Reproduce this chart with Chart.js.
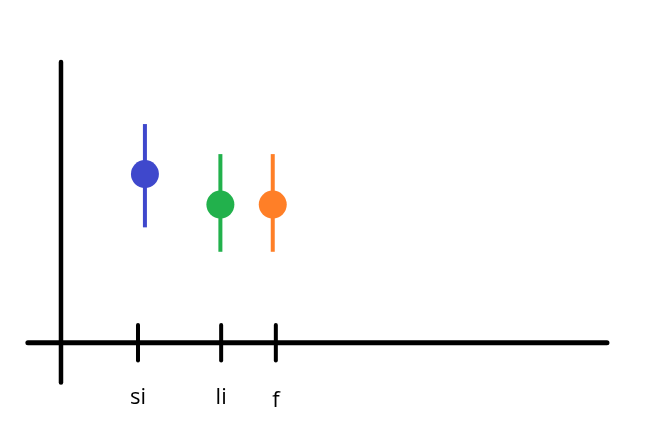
<!DOCTYPE html>
<html>
<head>
<meta charset="utf-8">
<script src="https://cdn.jsdelivr.net/npm/chart.js@4"></script>
<style>
  html, body { margin: 0; padding: 0; background: #fff; }
  #wrap { width: 650px; height: 439px; }
</style>
</head>
<body>
<div id="wrap"><canvas id="chart" width="650" height="439"></canvas></div>
<script>
// categories and where their ticks sit on the x axis
const categories = ['si', 'li', 'f'];
const tickPositions = [1, 2.08, 2.79];
// point x positions (drawn a little off the ticks in the original)
const pointPositions = [1.09, 2.07, 2.75];
// means and error bar ends
const means = [6.01, 4.92, 4.92];
const upper = [7.79, 6.72, 6.72];
const lower = [4.11, 3.24, 3.24];
const colors = ['#3f48cc', '#22b14c', '#ff7f27'];

// axis extents (data units)
const xAxisRange = [-0.43, 7.09];
const yAxisRange = [-1.42, 10];
const tickHalf = 0.63;
const labelY = [-2.2, -2.2, -2.28];

const handDrawn = {
  id: 'handDrawn',
  beforeDatasetsDraw(chart) {
    const { ctx, scales: { x, y } } = chart;
    ctx.save();
    ctx.strokeStyle = '#000';
    ctx.lineCap = 'round';

    // y axis
    ctx.lineWidth = 4.5;
    ctx.beginPath();
    ctx.moveTo(x.getPixelForValue(0), y.getPixelForValue(yAxisRange[1]));
    ctx.lineTo(x.getPixelForValue(0), y.getPixelForValue(yAxisRange[0]));
    ctx.stroke();

    // x axis
    ctx.lineWidth = 5;
    ctx.beginPath();
    ctx.moveTo(x.getPixelForValue(xAxisRange[0]), y.getPixelForValue(0));
    ctx.lineTo(x.getPixelForValue(xAxisRange[1]), y.getPixelForValue(0));
    ctx.stroke();

    // ticks + labels
    ctx.lineWidth = 4;
    ctx.fillStyle = '#000';
    ctx.font = '22px "Open Sans", sans-serif';
    ctx.textAlign = 'center';
    ctx.textBaseline = 'alphabetic';
    tickPositions.forEach((pos, i) => {
      const px = x.getPixelForValue(pos);
      ctx.beginPath();
      ctx.moveTo(px, y.getPixelForValue(tickHalf));
      ctx.lineTo(px, y.getPixelForValue(-tickHalf));
      ctx.stroke();
      ctx.fillText(categories[i], px, y.getPixelForValue(labelY[i]));
    });

    // error bars
    ctx.lineCap = 'butt';
    pointPositions.forEach((pos, i) => {
      const px = x.getPixelForValue(pos);
      ctx.strokeStyle = colors[i];
      ctx.beginPath();
      ctx.moveTo(px, y.getPixelForValue(upper[i]));
      ctx.lineTo(px, y.getPixelForValue(lower[i]));
      ctx.stroke();
    });
    ctx.restore();
  }
};

const yMin = -3.43, yMax = 12.21;
const xMin = -0.792, xMax = 7.649;

new Chart(document.getElementById('chart'), {
  type: 'scatter',
  data: {
    datasets: [{
      data: pointPositions.map((p, i) => ({ x: p, y: means[i] })),
      backgroundColor: colors,
      borderColor: colors,
      borderWidth: 0,
      pointRadius: 14,
      pointHoverRadius: 14
    }]
  },
  options: {
    responsive: false,
    animation: false,
    devicePixelRatio: 1,
    layout: { padding: 0, autoPadding: false },
    plugins: { legend: { display: false }, tooltip: { enabled: false } },
    scales: {
      x: { type: 'linear', display: false, min: xMin, max: xMax },
      y: { type: 'linear', display: false, min: yMin, max: yMax }
    }
  },
  plugins: [handDrawn]
});
</script>
</body>
</html>
